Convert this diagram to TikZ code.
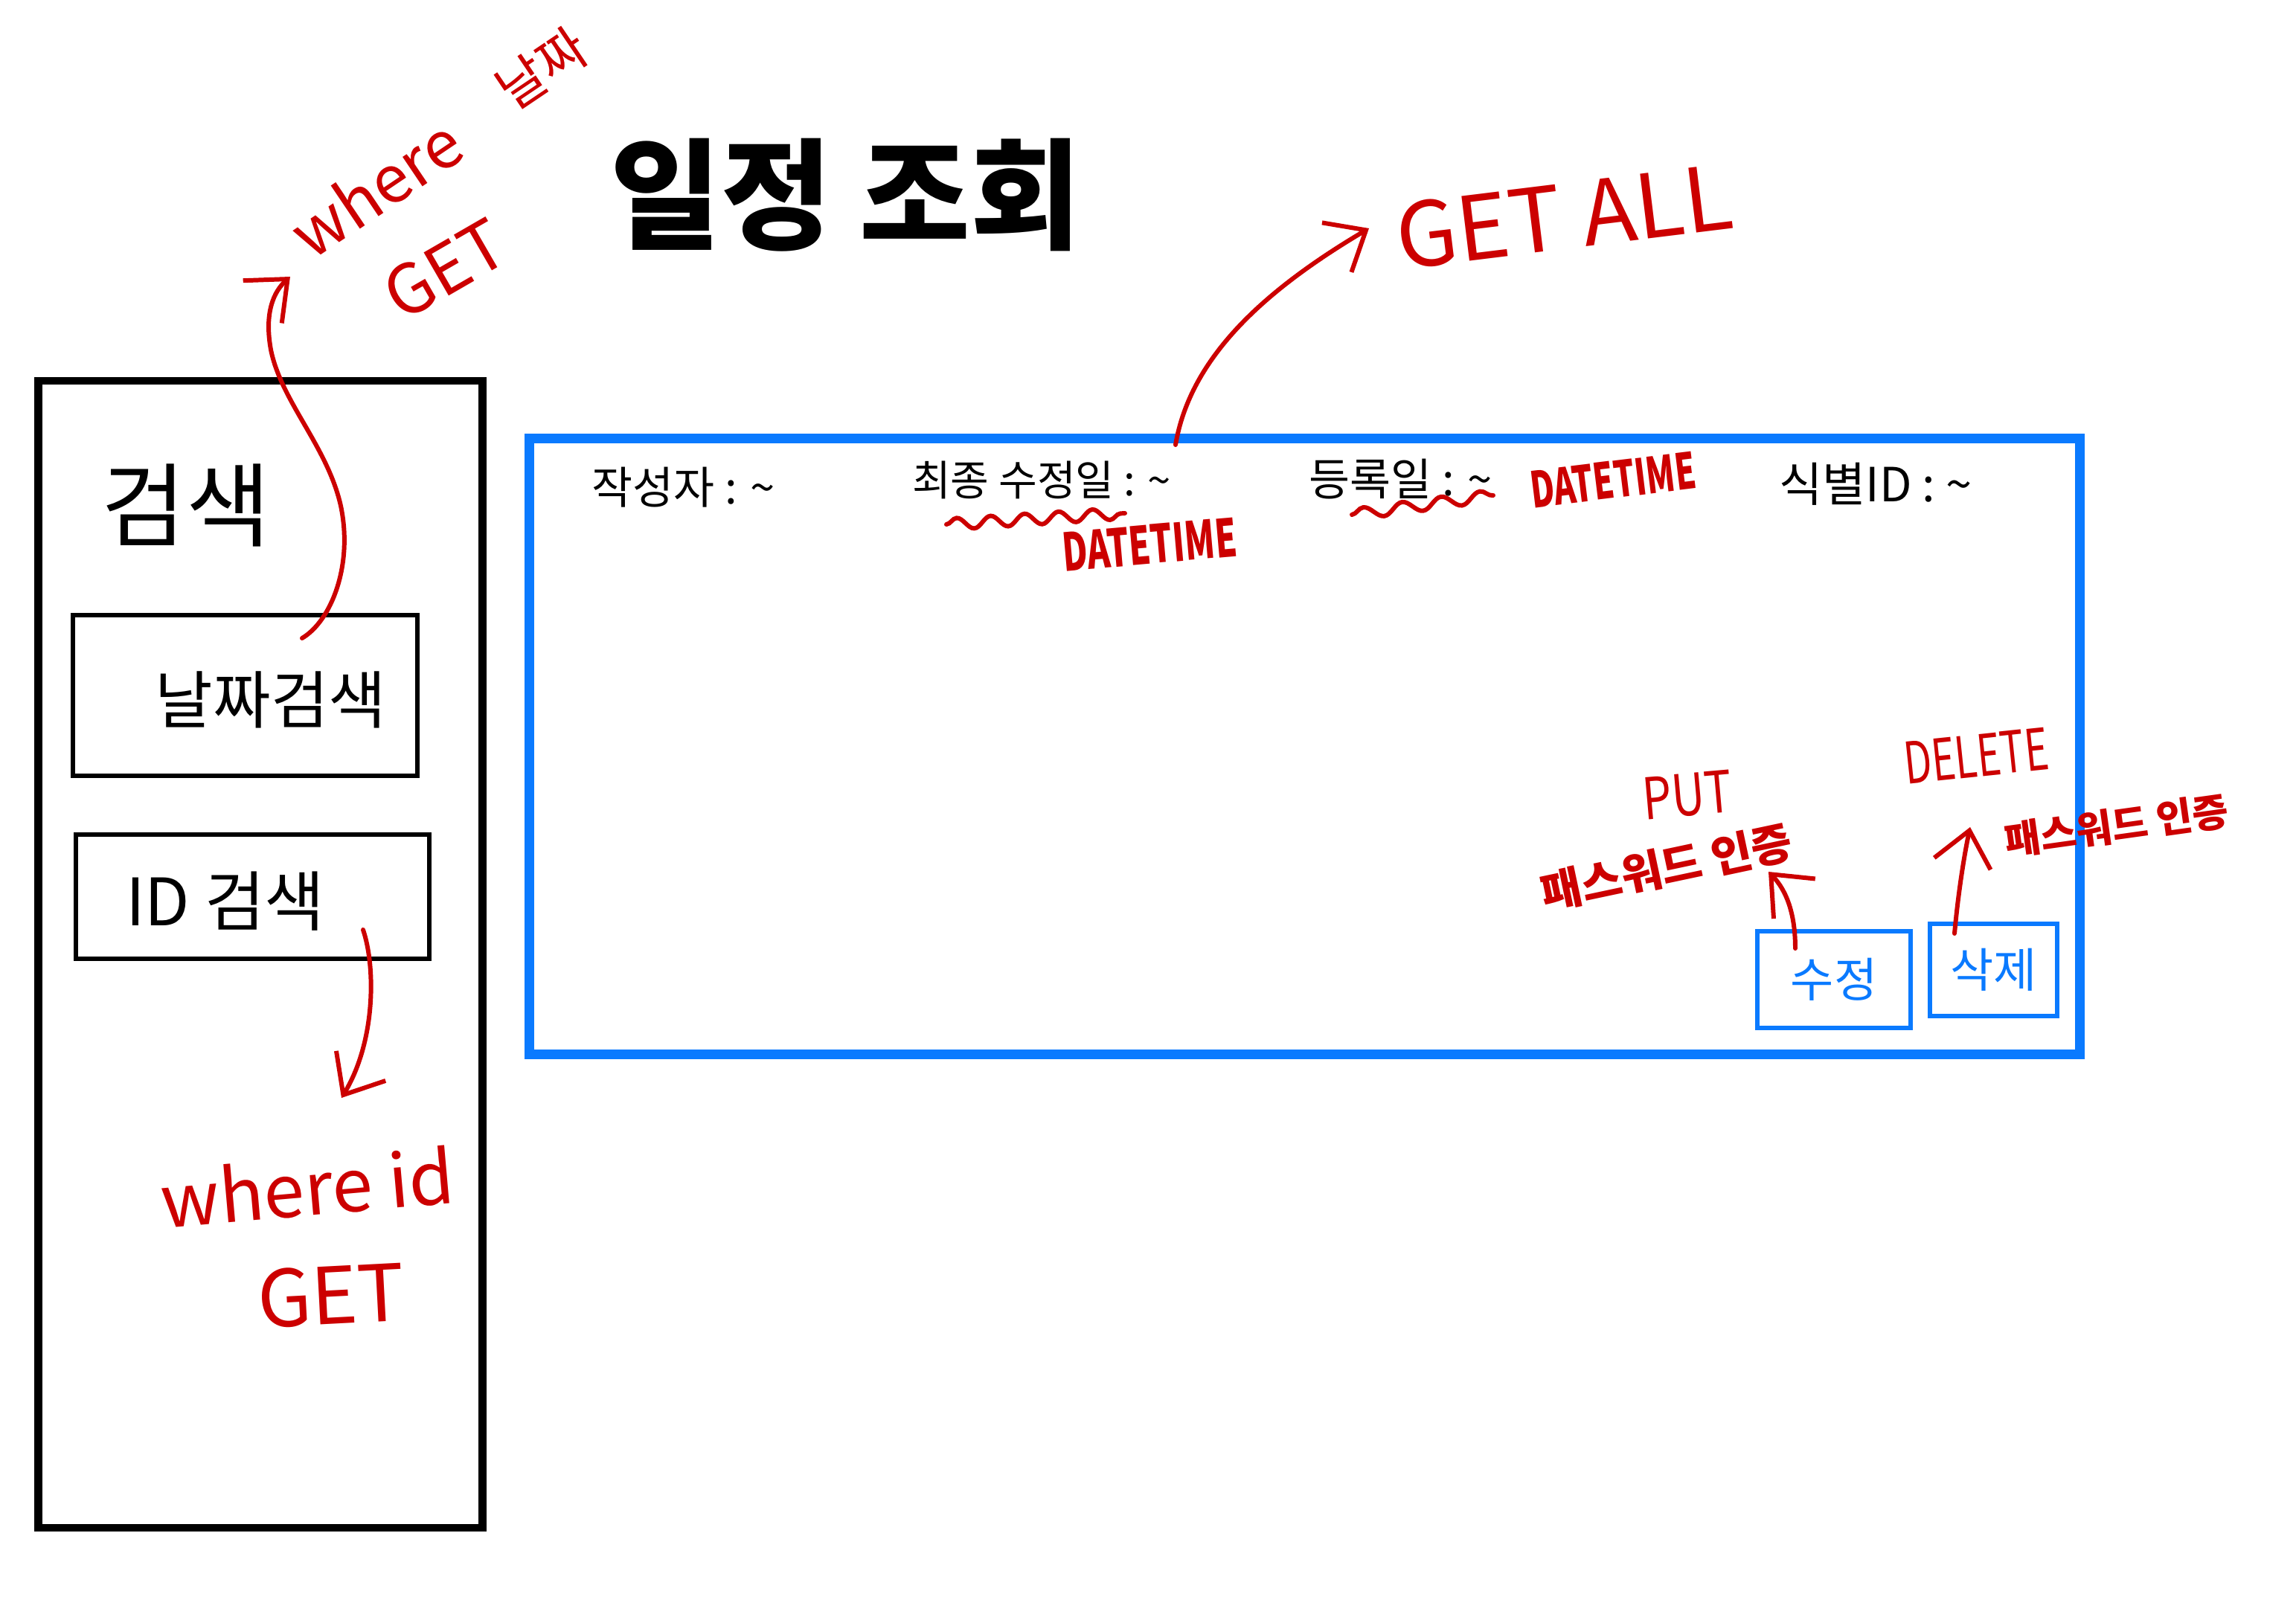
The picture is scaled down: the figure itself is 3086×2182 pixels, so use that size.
\documentclass[tikz,border=0pt]{standalone}
\usepackage{fontspec}
\setmainfont{Noto Sans CJK KR}
\usepackage{graphicx}
\usetikzlibrary{arrows.meta,decorations.pathmorphing}
\definecolor{inkred}{RGB}{204,0,0}
\definecolor{inkblue}{RGB}{10,122,255}
\tikzset{
  blackbox/.style={draw=black, line width=1.6pt, rectangle, inner sep=0pt},
  bluebtn/.style={draw=inkblue, line width=1.7pt, rectangle, inner sep=0pt, text=inkblue, font=\fontsize{18}{20}\selectfont},
  lbl/.style={inner sep=0pt, text=black},
  redlbl/.style={inner sep=0pt, text=inkred},
  redarrow/.style={draw=inkred, line width=1.7pt, line cap=round, line join=round,
                   -{Straight Barb[length=13pt,width=22pt,line width=1.7pt]}},
  redwave/.style={draw=inkred, line width=1.7pt, line cap=round, decorate}
}
\begin{document}
\begin{tikzpicture}[x=0.01cm,y=-0.01cm]
\useasboundingbox[fill=white] (0,0) rectangle (3086,2182);

% ---------- title ----------
\node[lbl, font=\fontsize{46}{52}\selectfont\bfseries] (title) at (1137,262) {일정 조회};

% ---------- left search panel ----------
\node[draw=black, line width=3pt, rectangle, inner sep=0pt,
      minimum width=5.97cm, minimum height=15.41cm] (panel) at (350,1283) {};
\node[lbl, font=\fontsize{35}{38}\selectfont] (searchlbl) at (250,679) {검색};
\node[blackbox, minimum width=4.63cm, minimum height=2.16cm] (datebox) at (329.5,935) {};
\node[lbl, font=\fontsize{24}{28}\selectfont] (datelbl) at (364,941) {날짜검색};
\node[blackbox, minimum width=4.75cm, minimum height=1.67cm] (idbox) at (339.5,1205.5) {};
\node[lbl, font=\fontsize{25}{28}\selectfont] (idlbl) at (303,1212) {ID 검색};

% red notes, left
\node[redlbl, rotate=34, font=\fontsize{25}{28}\selectfont] (whereA) at (505,252) {where};
\node[redlbl, rotate=30, font=\fontsize{26}{28}\selectfont] (getA) at (598,362) {GET};
\node[redlbl, rotate=34, font=\fontsize{20}{24}\selectfont] (nalja) at (728,92) {날짜};
\coordinate (dateStart) at (406,858);
\coordinate (dateTip) at (390,372);
\draw[redarrow] (dateStart) .. controls (445,835) and (475,760) .. (458,680)
                 .. controls (440,600) and (378,540) .. (364,470)
                 .. controls (355,420) and (368,392) .. (dateTip);

\node[redlbl, rotate=5, font=\fontsize{28}{32}\selectfont] (whereB) at (413,1596) {where id};
\node[redlbl, rotate=3, font=\fontsize{30}{34}\selectfont] (getB) at (445,1742) {GET};
\coordinate (idStart) at (488,1250);
\coordinate (idTip) at (459,1476);
\draw[redarrow] (idStart) .. controls (505,1300) and (505,1400) .. (idTip);

% ---------- list panel ----------
\node[draw=inkblue, line width=3.7pt, rectangle, inner sep=0pt,
      minimum width=20.83cm, minimum height=8.27cm] (listbox) at (1753.5,1003.5) {};
\node[lbl, font=\fontsize{17}{20}\selectfont] (writer) at (919,655) {작성자 : \textasciitilde};
\node[lbl, font=\fontsize{16}{20}\selectfont] (modified) at (1400,645) {최종 수정일 : \textasciitilde};
\node[lbl, font=\fontsize{17}{20}\selectfont] (registered) at (1883,644) {등록일 : \textasciitilde};
\node[lbl, font=\fontsize{18}{20}\selectfont] (ident) at (2521,651) {식별ID : \textasciitilde};

\coordinate (w1s) at (1272,705);
\coordinate (w1e) at (1512,690);
\draw[redwave, decoration={snake, amplitude=2.2pt, segment length=13pt}] (w1s) -- (w1e);
\coordinate (w2s) at (1817,692);
\coordinate (w2e) at (2007,666);
\draw[redwave, decoration={snake, amplitude=2.2pt, segment length=15pt}] (w2s) -- (w2e);

\node[redlbl, rotate=5, font=\fontsize{20}{22}\selectfont\bfseries] (dt1) at (1545,732) {\scalebox{0.66}[1]{DATETIME}};
\node[redlbl, rotate=7, font=\fontsize{19}{22}\selectfont\bfseries] (dt2) at (2168,645) {\scalebox{0.66}[1]{DATETIME}};

\node[redlbl, rotate=7, font=\fontsize{34}{38}\selectfont] (getall) at (2102,291) {GET ALL};
\coordinate (allStart) at (1580,598);
\coordinate (allTip) at (1840,307);
\draw[redarrow] (allStart) .. controls (1600,480) and (1700,390) .. (allTip);

% buttons
\node[bluebtn, minimum width=2.06cm, minimum height=1.30cm] (editbtn) at (2465,1317) {수정};
\node[bluebtn, minimum width=1.71cm, minimum height=1.24cm] (delbtn) at (2679.5,1304) {삭제};

\node[redlbl, rotate=5, font=\fontsize{22}{24}\selectfont] (put) at (2268,1069) {\scalebox{0.8}[1]{PUT}};
\node[redlbl, rotate=12, font=\fontsize{17}{18}\selectfont\bfseries] (pwA) at (2240,1166) {패스워드 인증};
\coordinate (putStart) at (2413,1275);
\coordinate (putTip) at (2377,1172);
\draw[redarrow] (putStart) .. controls (2413,1230) and (2402,1198) .. (putTip);

\node[redlbl, rotate=6, font=\fontsize{22}{24}\selectfont] (delete) at (2656,1016) {\scalebox{0.7}[1]{DELETE}};
\node[redlbl, rotate=8, font=\fontsize{15}{18}\selectfont\bfseries] (pwB) at (2845,1110) {패스워드 인증};
\coordinate (delStart) at (2627,1255);
\coordinate (delTip) at (2648,1112);
\draw[redarrow] (delStart) .. controls (2632,1200) and (2640,1150) .. (delTip);
\end{tikzpicture}
\end{document}
